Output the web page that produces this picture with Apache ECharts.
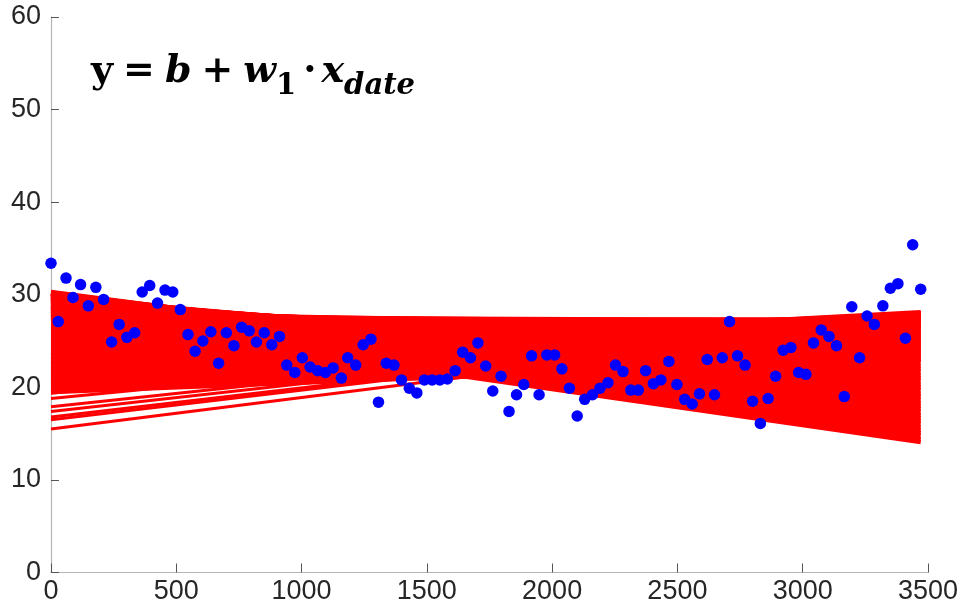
<!DOCTYPE html>
<html>
<head>
<meta charset="utf-8">
<script src="https://cdn.jsdelivr.net/npm/echarts@6/dist/echarts.min.js"></script>
<style>
  html, body { margin: 0; padding: 0; background: #fff; }
  #main { width: 961px; height: 610px; }
</style>
</head>
<body>
<div id="main"></div>
<script>
// observed points (x = date index, y = value)
const xDate = [0, 29, 60, 88, 118, 149, 179, 210, 242, 272, 303, 334, 364, 394, 425, 455, 486, 516, 547, 575,
  606, 638, 669, 700, 730, 761, 791, 820, 851, 881, 912, 941, 973, 1003, 1034, 1064, 1095, 1126, 1159, 1184,
  1216, 1246, 1277, 1307, 1338, 1369, 1399, 1430, 1460, 1490, 1521, 1552, 1582, 1613, 1643, 1674, 1704, 1735, 1763, 1796,
  1828, 1858, 1887, 1918, 1948, 1979, 2010, 2039, 2069, 2100, 2130, 2161, 2191, 2223, 2253, 2283, 2314, 2344, 2373, 2404,
  2434, 2466, 2498, 2529, 2559, 2588, 2619, 2648, 2679, 2708, 2740, 2770, 2800, 2831, 2862, 2892, 2922, 2953, 2984, 3013,
  3043, 3074, 3105, 3135, 3166, 3196, 3227, 3257, 3286, 3320, 3350, 3380, 3410, 3439, 3471];
const yValue = [33.4, 27.1, 31.8, 29.7, 31.1, 28.8, 30.8, 29.5, 24.9, 26.8, 25.4, 25.9, 30.3, 31.0, 29.1, 30.5, 30.3, 28.4, 25.7, 23.9,
  25.0, 26.0, 22.6, 25.9, 24.5, 26.5, 26.1, 24.9, 25.9, 24.6, 25.5, 22.4, 21.6, 23.2, 22.2, 21.8, 21.6, 22.1, 21.0, 23.2,
  22.4, 24.6, 25.2, 18.4, 22.6, 22.4, 20.8, 19.9, 19.4, 20.8, 20.8, 20.8, 20.9, 21.8, 23.8, 23.2, 24.8, 22.3, 19.6, 21.2,
  17.4, 19.2, 20.3, 23.4, 19.2, 23.5, 23.5, 22.0, 19.9, 16.9, 18.7, 19.2, 19.9, 20.5, 22.4, 21.7, 19.7, 19.7, 21.8, 20.4,
  20.8, 22.8, 20.3, 18.7, 18.2, 19.3, 23.0, 19.2, 23.2, 27.1, 23.4, 22.4, 18.5, 16.1, 18.8, 21.2, 24.0, 24.3, 21.6, 21.4,
  24.8, 26.2, 25.5, 24.5, 19.0, 28.7, 23.2, 27.7, 26.8, 28.8, 30.7, 31.2, 25.3, 35.4, 30.6];

// fitted lines y = b + w1 * x, given by their value at the first and last date
const lineStart = [27.6, 27.8, 28.0, 28.3, 28.5, 28.7, 28.9, 29.2, 29.4, 29.6, 29.8, 30.1, 30.3,
  30.2, 30.2, 30.1, 30.1, 30.0, 30.0, 29.9, 29.8, 29.8, 29.7, 29.7, 29.6,
  29.5, 29.4, 29.3, 29.1, 29.0, 28.9, 28.8, 28.7, 28.6, 28.5, 28.3, 28.2, 28.1,
  27.9, 27.8, 27.6,
  27.3, 26.9, 26.6, 26.2, 25.9, 25.5, 25.2, 24.8, 24.5, 24.2, 23.8, 23.5, 23.1,
  22.9, 22.6, 22.4, 22.1, 21.9, 21.7, 21.4, 21.2, 20.9, 20.7, 20.5, 20.2, 20.0, 19.7, 19.5];
const lineEnd = [14.1, 14.4, 14.8, 15.1, 15.4, 15.7, 16.1, 16.4, 16.7, 17.0, 17.4, 17.7, 18.0,
  18.3, 18.7, 19.0, 19.3, 19.7, 20.0, 20.3, 20.7, 21.0, 21.3, 21.7, 22.0,
  22.3, 22.7, 23.0, 23.3, 23.7, 24.0, 24.3, 24.7, 25.0, 25.3, 25.7, 26.0, 26.35,
  26.6, 26.9, 27.2,
  27.3, 27.3, 27.4, 27.4, 27.5, 27.6, 27.6, 27.7, 27.8, 27.8, 27.9, 28.0, 28.1,
  27.8, 27.4, 27.1, 26.7, 26.4, 26.1, 25.7, 25.4, 25.1, 24.7, 24.4, 24.0, 23.7, 23.3, 23.0];

// early lines that stand apart below the band on the left
const strayStart = [19.35, 18.8, 17.9, 17.4, 16.8, 16.5, 15.5];
const strayEnd = [28.1, 28.0, 27.9, 27.8, 27.7, 27.6, 27.3];

const xTicks = [0, 500, 1000, 1500, 2000, 2500, 3000, 3500];
const yTicks = [0, 10, 20, 30, 40, 50, 60];

const chart = echarts.init(document.getElementById('main'));

const xFirst = xDate[0];
const xLast = xDate[xDate.length - 1];
const lineData = lineStart.map((s, i) => ({ coords: [[xFirst, s], [xLast, lineEnd[i]]] }));
const strayData = strayStart.map((s, i) => ({ coords: [[xFirst, s], [xLast, strayEnd[i]]] }));
const points = xDate.map((x, i) => [x, yValue[i]]);

const axisColor = '#b5b5b5';
const labelColor = '#262626';
const labelFont = 'Liberation Sans, Arial, Helvetica, sans-serif';
const mathFont = 'DejaVu Serif, serif';

chart.setOption({
  animation: false,
  backgroundColor: '#ffffff',
  title: {
    left: 86,
    top: 38,
    text: '{y|y}{op|=}{v|b}{op|+}{v|w}{sub|1}{dot|·}{v|x}{subi|date}',
    textStyle: {
      rich: {
        y: { fontFamily: mathFont, fontWeight: 'bold', fontSize: 38, color: '#000', lineHeight: 58, verticalAlign: 'middle' },
        v: { fontFamily: mathFont, fontWeight: 'bold', fontStyle: 'italic', fontSize: 38, color: '#000', lineHeight: 58, verticalAlign: 'middle' },
        op: { fontFamily: mathFont, fontSize: 38, color: '#000', lineHeight: 58, verticalAlign: 'middle', padding: [0, 10, 0, 10] },
        dot: { fontFamily: mathFont, fontSize: 38, color: '#000', lineHeight: 58, verticalAlign: 'middle', padding: [0, 5, 0, 7] },
        sub: { fontFamily: mathFont, fontWeight: 'bold', fontSize: 29, color: '#000', lineHeight: 32, verticalAlign: 'bottom' },
        subi: { fontFamily: mathFont, fontWeight: 'bold', fontStyle: 'italic', fontSize: 29, color: '#000', lineHeight: 32, verticalAlign: 'bottom' }
      }
    }
  },
  grid: { left: 51, right: 31, top: 17, bottom: 37.5, containLabel: false },
  xAxis: {
    type: 'value',
    min: xTicks[0],
    max: xTicks[xTicks.length - 1],
    interval: xTicks[1] - xTicks[0],
    axisLine: { show: true, onZero: false, lineStyle: { color: axisColor, width: 1.2 } },
    axisTick: { show: true, inside: true, length: 9, lineStyle: { color: '#555', width: 1 } },
    axisLabel: { color: labelColor, fontSize: 27, fontFamily: labelFont, margin: 6, formatter: v => String(v) },
    splitLine: { show: false }
  },
  yAxis: {
    type: 'value',
    min: yTicks[0],
    max: yTicks[yTicks.length - 1],
    interval: yTicks[1] - yTicks[0],
    axisLine: { show: true, onZero: false, lineStyle: { color: axisColor, width: 1.2 } },
    axisTick: { show: true, inside: true, length: 8, lineStyle: { color: '#555', width: 1 } },
    axisLabel: { color: labelColor, fontSize: 27, fontFamily: labelFont, margin: 10, formatter: v => String(v) },
    splitLine: { show: false }
  },
  series: [
    {
      type: 'lines',
      coordinateSystem: 'cartesian2d',
      silent: true,
      lineStyle: { color: '#ff0000', width: 4.5, opacity: 1 },
      data: lineData,
      z: 1
    },
    {
      type: 'lines',
      coordinateSystem: 'cartesian2d',
      silent: true,
      lineStyle: { color: '#ff0000', width: 3, opacity: 1 },
      data: strayData,
      z: 1
    },
    {
      type: 'scatter',
      symbol: 'circle',
      symbolSize: 11.5,
      itemStyle: { color: '#0000ff', opacity: 1 },
      data: points,
      z: 2
    }
  ]
});
</script>
</body>
</html>
